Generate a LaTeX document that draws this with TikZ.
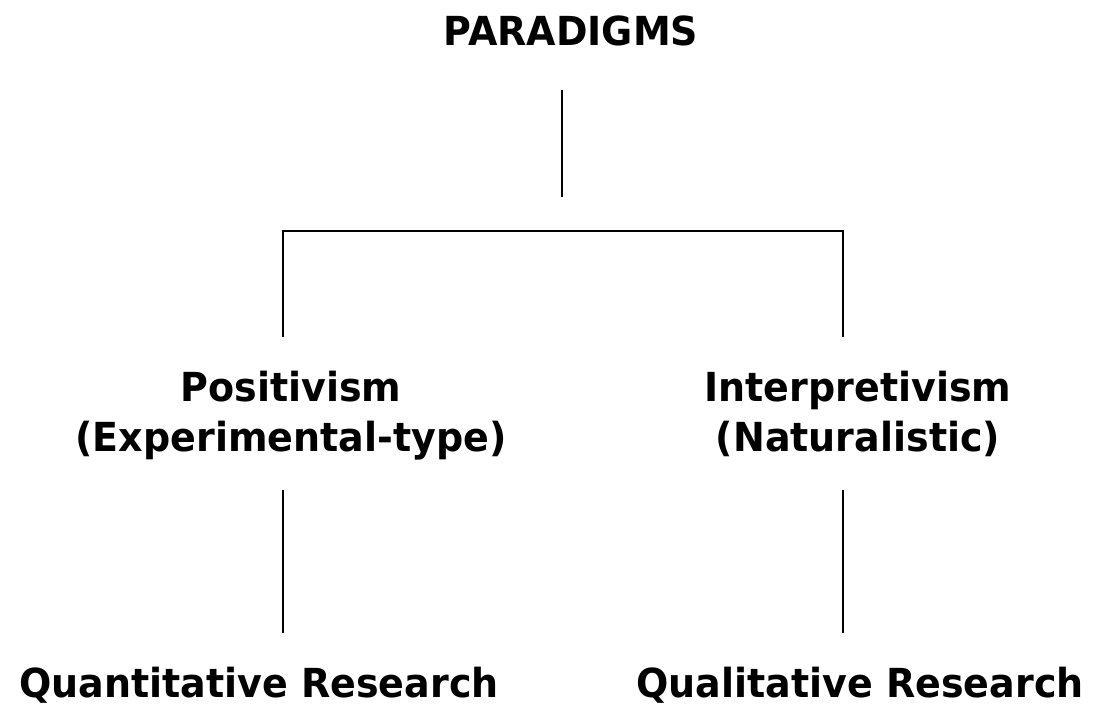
\documentclass[tikz,border=0pt]{standalone}
\usepackage{fontspec}
\setmainfont[FakeStretch=0.95]{DejaVu Sans}
\begin{document}
\begin{tikzpicture}[x=1pt,y=1pt,
  lbl/.style={font=\bfseries\fontsize{40}{50}\selectfont, align=center, inner sep=0pt, anchor=base},
  conn/.style={line width=1.6pt, black}]
\useasboundingbox (0,0) rectangle (1094,-708);
\node[lbl] (top) at (571,-46) {PARADIGMS};
\node[lbl] (pos) at (291,-451) {Positivism\\(Experimental-type)};
\node[lbl] (int) at (858,-451) {Interpretivism\\(Naturalistic)};
\node[lbl] (quan) at (259,-697) {Quantitative Research};
\node[lbl] (qual) at (860,-697) {Qualitative Research};
\coordinate (t1) at (562,-90);
\coordinate (t2) at (562,-197);
\coordinate (hl) at (283,-231);
\coordinate (hr) at (843,-231);
\coordinate (pl) at (283,-337);
\coordinate (pr) at (843,-337);
\coordinate (ql1) at (283,-490);
\coordinate (ql2) at (283,-633);
\coordinate (qr1) at (843,-490);
\coordinate (qr2) at (843,-633);
\draw[conn] (t1) -- (t2);
\draw[conn] (pl) -- (hl) -- (hr) -- (pr);
\draw[conn] (ql1) -- (ql2);
\draw[conn] (qr1) -- (qr2);
\end{tikzpicture}
\end{document}
